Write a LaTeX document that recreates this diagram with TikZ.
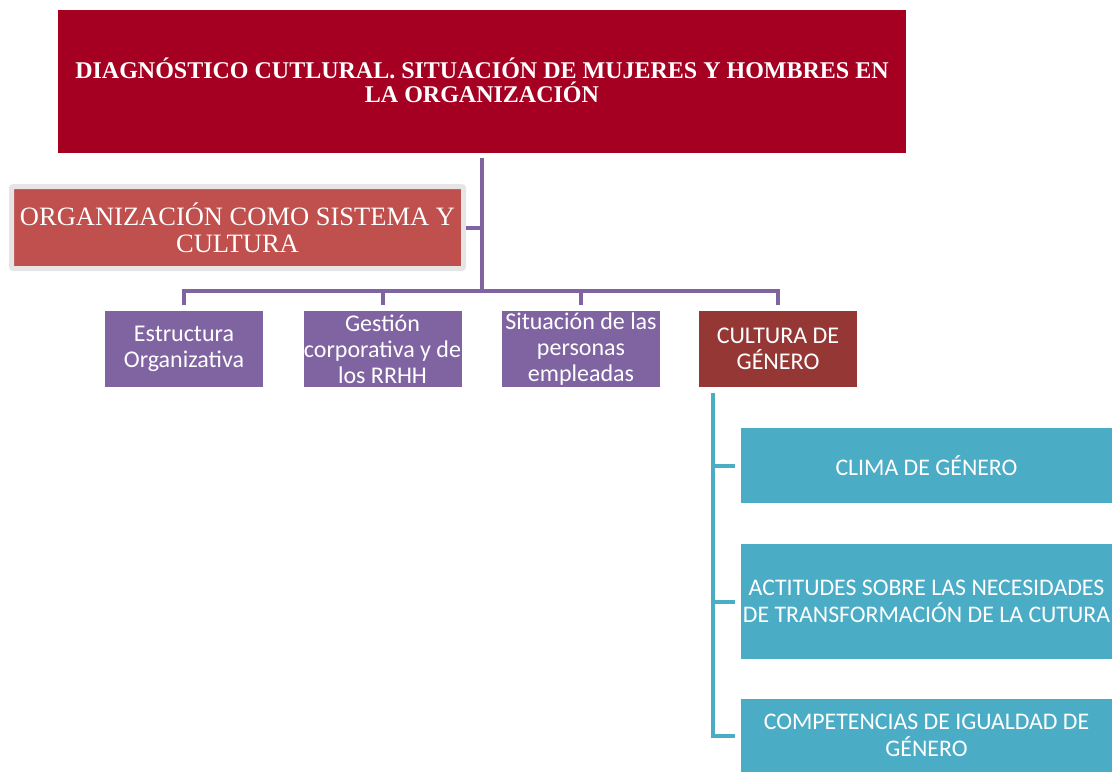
\documentclass[tikz,border=0pt]{standalone}
\usepackage{fontspec}
\setmainfont{Liberation Serif}
\newfontfamily\calfont{Carlito}
\usepackage{xcolor}
\usetikzlibrary{calc, positioning}

\definecolor{titlered}{HTML}{A50021}
\definecolor{orgred}{HTML}{C0504D}
\definecolor{areapurple}{HTML}{8064A2}
\definecolor{generored}{HTML}{953735}
\definecolor{climateal}{HTML}{4BACC6}

\begin{document}
\begin{tikzpicture}[
    x=1pt, y=-1pt,
    purple_line/.style={draw=areapurple, line width=4pt},
    teal_line/.style={draw=climateal, line width=4pt},
    % Nivel 1
    title_node/.style={rectangle, fill=titlered, text=white, inner sep=0pt, minimum width=848pt, minimum height=143pt, align=center, font=\fontsize{24}{24}\selectfont\bfseries},
    org_node/.style={rectangle, rounded corners=2pt, fill=orgred, draw=black!10, line width=5pt, text=white, inner sep=0pt, minimum width=452pt, minimum height=82pt, align=center, font=\fontsize{26.5}{27}\selectfont},
    % Nivel 2
    area_node/.style={rectangle, fill=areapurple, text=white, inner sep=0pt, minimum width=158pt, minimum height=76pt, align=center, font=\calfont\fontsize{24}{26}\selectfont},
    genero_node/.style={area_node, fill=generored},
    % Nivel 3
    clima_node/.style={rectangle, fill=climateal, text=white, inner sep=0pt, minimum width=371pt, align=center, font=\calfont\fontsize{23.8}{27}\selectfont}
]
    \useasboundingbox (0,0) rectangle (1112,772);

    % =========================================================
    % NIVEL 1: DIAGNÓSTICO Y ORGANIZACIÓN
    % =========================================================
    \node [title_node] (title) at (482, 81.5) {\raisebox{3pt}{\shortstack{DIAGNÓSTICO CUTLURAL. SITUACIÓN DE MUJERES Y HOMBRES EN\\LA ORGANIZACIÓN}}};
    \node [org_node] (org) at (237.5, 227.5) {ORGANIZACIÓN COMO SISTEMA Y\\CULTURA};

    \coordinate (hub) at (482, 291);
    \draw [purple_line] ([yshift=-5pt]title.south) -- (hub);
    \draw [purple_line] (org.east) -- (org.east -| hub);

    % =========================================================
    % NIVEL 2: ÁREAS DEL DIAGNÓSTICO
    % =========================================================
    \node [area_node] (estr) at (184, 349) {Estructura\\Organizativa};
    \node [area_node] (gest) at (382.5, 349) {Gestión\\corporativa y de\\los RRHH};
    \node [area_node] (situ) at (581, 349) {Situación de las\\personas\\empleadas};
    \node [genero_node] (cult) at (778, 349) {CULTURA DE\\GÉNERO};

    \foreach \area in {estr, gest, situ, cult}
        \draw [purple_line, shorten >=6pt] (hub) -| (\area.north);

    % =========================================================
    % NIVEL 3: CULTURA DE GÉNERO
    % =========================================================
    \node [clima_node, minimum height=75pt] (clima) at (926.5, 465.5) {CLIMA DE GÉNERO};
    \node [clima_node, minimum height=115pt] (actit) at (926.5, 601.5) {ACTITUDES SOBRE LAS NECESIDADES\\DE TRANSFORMACIÓN DE LA CUTURA};
    \node [clima_node, minimum height=73pt] (compet) at (926.5, 735.5) {COMPETENCIAS DE IGUALDAD DE\\GÉNERO};

    \coordinate (ctop) at ([xshift=14pt, yshift=-6pt]cult.south west);
    \draw [teal_line, shorten >=6pt] (ctop) |- (compet.west);
    \foreach \item in {clima, actit}
        \draw [teal_line, shorten >=6pt] (ctop |- \item.west) -- (\item.west);
\end{tikzpicture}
\end{document}
